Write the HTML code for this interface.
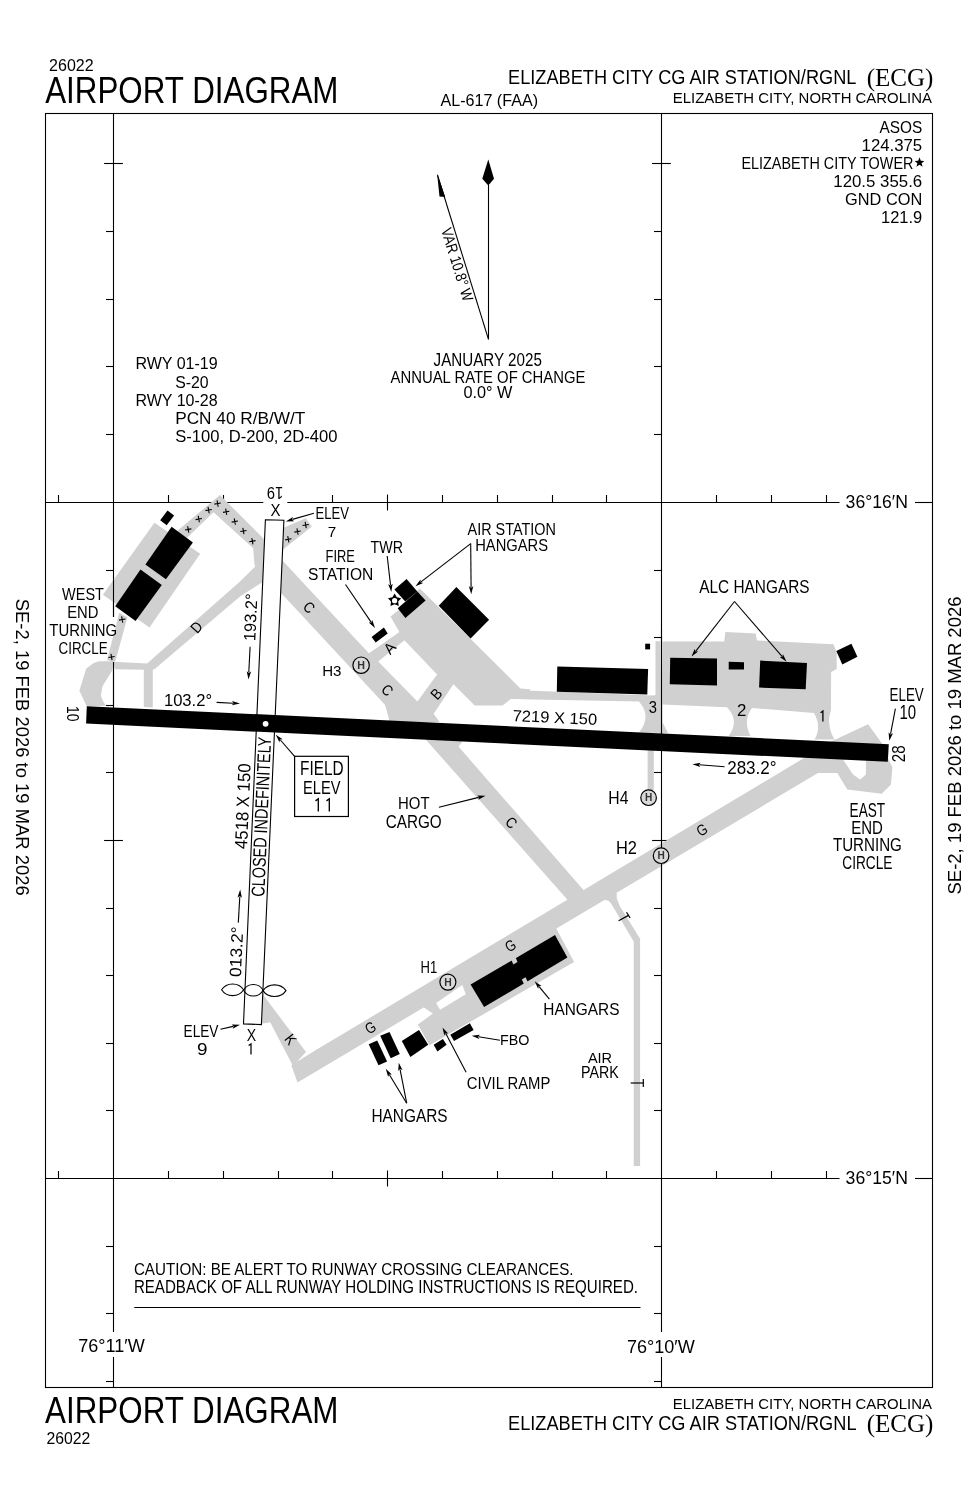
<!DOCTYPE html>
<html><head><meta charset="utf-8"><style>
html,body{margin:0;padding:0;background:#fff;}
svg{display:block;will-change:transform;}
text{font-family:"Liberation Sans",sans-serif;fill:#000;}
</style></head><body>
<svg width="978" height="1500" viewBox="0 0 978 1500">
<rect x="45.5" y="113.5" width="887" height="1274" fill="none" stroke="#000" stroke-width="1.1"/>
<line x1="113.5" y1="113.5" x2="113.5" y2="617" stroke="#000" stroke-width="1.1"/>
<line x1="113.5" y1="662" x2="113.5" y2="1332" stroke="#000" stroke-width="1.1"/>
<line x1="113.5" y1="1357" x2="113.5" y2="1387" stroke="#000" stroke-width="1.1"/>
<line x1="661.5" y1="113.5" x2="661.5" y2="1332" stroke="#000" stroke-width="1.1"/>
<line x1="661.5" y1="1357" x2="661.5" y2="1387" stroke="#000" stroke-width="1.1"/>
<line x1="45.5" y1="502.5" x2="263.3" y2="502.5" stroke="#000" stroke-width="1.1"/>
<line x1="287.3" y1="502.5" x2="839.5" y2="502.5" stroke="#000" stroke-width="1.1"/>
<line x1="915" y1="502.5" x2="932.5" y2="502.5" stroke="#000" stroke-width="1.1"/>
<line x1="45.5" y1="1178.5" x2="839.5" y2="1178.5" stroke="#000" stroke-width="1.1"/>
<line x1="915" y1="1178.5" x2="932.5" y2="1178.5" stroke="#000" stroke-width="1.1"/>
<line x1="104.1" y1="163.5" x2="122.9" y2="163.5" stroke="#000" stroke-width="1.1"/>
<line x1="106.0" y1="231.5" x2="113.5" y2="231.5" stroke="#000" stroke-width="1.1"/>
<line x1="106.0" y1="299.5" x2="113.5" y2="299.5" stroke="#000" stroke-width="1.1"/>
<line x1="106.0" y1="366.5" x2="113.5" y2="366.5" stroke="#000" stroke-width="1.1"/>
<line x1="106.0" y1="434.5" x2="113.5" y2="434.5" stroke="#000" stroke-width="1.1"/>
<line x1="106.0" y1="570.5" x2="113.5" y2="570.5" stroke="#000" stroke-width="1.1"/>
<line x1="106.0" y1="705.5" x2="113.5" y2="705.5" stroke="#000" stroke-width="1.1"/>
<line x1="106.0" y1="772.5" x2="113.5" y2="772.5" stroke="#000" stroke-width="1.1"/>
<line x1="104.1" y1="840.5" x2="122.9" y2="840.5" stroke="#000" stroke-width="1.1"/>
<line x1="106.0" y1="908.5" x2="113.5" y2="908.5" stroke="#000" stroke-width="1.1"/>
<line x1="106.0" y1="975.5" x2="113.5" y2="975.5" stroke="#000" stroke-width="1.1"/>
<line x1="106.0" y1="1043.5" x2="113.5" y2="1043.5" stroke="#000" stroke-width="1.1"/>
<line x1="106.0" y1="1110.5" x2="113.5" y2="1110.5" stroke="#000" stroke-width="1.1"/>
<line x1="106.0" y1="1246.5" x2="113.5" y2="1246.5" stroke="#000" stroke-width="1.1"/>
<line x1="106.0" y1="1313.5" x2="113.5" y2="1313.5" stroke="#000" stroke-width="1.1"/>
<line x1="106.0" y1="1381.5" x2="113.5" y2="1381.5" stroke="#000" stroke-width="1.1"/>
<line x1="652.1" y1="163.5" x2="670.9" y2="163.5" stroke="#000" stroke-width="1.1"/>
<line x1="654.0" y1="231.5" x2="661.5" y2="231.5" stroke="#000" stroke-width="1.1"/>
<line x1="654.0" y1="299.5" x2="661.5" y2="299.5" stroke="#000" stroke-width="1.1"/>
<line x1="654.0" y1="366.5" x2="661.5" y2="366.5" stroke="#000" stroke-width="1.1"/>
<line x1="654.0" y1="434.5" x2="661.5" y2="434.5" stroke="#000" stroke-width="1.1"/>
<line x1="654.0" y1="570.5" x2="661.5" y2="570.5" stroke="#000" stroke-width="1.1"/>
<line x1="654.0" y1="637.5" x2="661.5" y2="637.5" stroke="#000" stroke-width="1.1"/>
<line x1="654.0" y1="705.5" x2="661.5" y2="705.5" stroke="#000" stroke-width="1.1"/>
<line x1="654.0" y1="772.5" x2="661.5" y2="772.5" stroke="#000" stroke-width="1.1"/>
<line x1="652.1" y1="840.5" x2="670.9" y2="840.5" stroke="#000" stroke-width="1.1"/>
<line x1="654.0" y1="908.5" x2="661.5" y2="908.5" stroke="#000" stroke-width="1.1"/>
<line x1="654.0" y1="975.5" x2="661.5" y2="975.5" stroke="#000" stroke-width="1.1"/>
<line x1="654.0" y1="1043.5" x2="661.5" y2="1043.5" stroke="#000" stroke-width="1.1"/>
<line x1="654.0" y1="1110.5" x2="661.5" y2="1110.5" stroke="#000" stroke-width="1.1"/>
<line x1="654.0" y1="1246.5" x2="661.5" y2="1246.5" stroke="#000" stroke-width="1.1"/>
<line x1="654.0" y1="1313.5" x2="661.5" y2="1313.5" stroke="#000" stroke-width="1.1"/>
<line x1="654.0" y1="1381.5" x2="661.5" y2="1381.5" stroke="#000" stroke-width="1.1"/>
<line x1="58.5" y1="495.0" x2="58.5" y2="502.5" stroke="#000" stroke-width="1.1"/>
<line x1="168.5" y1="495.0" x2="168.5" y2="502.5" stroke="#000" stroke-width="1.1"/>
<line x1="223.5" y1="495.0" x2="223.5" y2="502.5" stroke="#000" stroke-width="1.1"/>
<line x1="332.5" y1="495.0" x2="332.5" y2="502.5" stroke="#000" stroke-width="1.1"/>
<line x1="387.5" y1="494.5" x2="387.5" y2="510.5" stroke="#000" stroke-width="1.1"/>
<line x1="442.5" y1="495.0" x2="442.5" y2="502.5" stroke="#000" stroke-width="1.1"/>
<line x1="497.5" y1="495.0" x2="497.5" y2="502.5" stroke="#000" stroke-width="1.1"/>
<line x1="552.5" y1="495.0" x2="552.5" y2="502.5" stroke="#000" stroke-width="1.1"/>
<line x1="606.5" y1="495.0" x2="606.5" y2="502.5" stroke="#000" stroke-width="1.1"/>
<line x1="716.5" y1="495.0" x2="716.5" y2="502.5" stroke="#000" stroke-width="1.1"/>
<line x1="771.5" y1="495.0" x2="771.5" y2="502.5" stroke="#000" stroke-width="1.1"/>
<line x1="826.5" y1="495.0" x2="826.5" y2="502.5" stroke="#000" stroke-width="1.1"/>
<line x1="58.5" y1="1171.0" x2="58.5" y2="1178.5" stroke="#000" stroke-width="1.1"/>
<line x1="168.5" y1="1171.0" x2="168.5" y2="1178.5" stroke="#000" stroke-width="1.1"/>
<line x1="223.5" y1="1171.0" x2="223.5" y2="1178.5" stroke="#000" stroke-width="1.1"/>
<line x1="278.5" y1="1171.0" x2="278.5" y2="1178.5" stroke="#000" stroke-width="1.1"/>
<line x1="332.5" y1="1171.0" x2="332.5" y2="1178.5" stroke="#000" stroke-width="1.1"/>
<line x1="387.5" y1="1170.5" x2="387.5" y2="1186.5" stroke="#000" stroke-width="1.1"/>
<line x1="442.5" y1="1171.0" x2="442.5" y2="1178.5" stroke="#000" stroke-width="1.1"/>
<line x1="497.5" y1="1171.0" x2="497.5" y2="1178.5" stroke="#000" stroke-width="1.1"/>
<line x1="552.5" y1="1171.0" x2="552.5" y2="1178.5" stroke="#000" stroke-width="1.1"/>
<line x1="606.5" y1="1171.0" x2="606.5" y2="1178.5" stroke="#000" stroke-width="1.1"/>
<line x1="716.5" y1="1171.0" x2="716.5" y2="1178.5" stroke="#000" stroke-width="1.1"/>
<line x1="771.5" y1="1171.0" x2="771.5" y2="1178.5" stroke="#000" stroke-width="1.1"/>
<line x1="826.5" y1="1171.0" x2="826.5" y2="1178.5" stroke="#000" stroke-width="1.1"/>
<text x="49.10" y="70.90" font-size="16.13" textLength="44.50" lengthAdjust="spacingAndGlyphs">26022</text>
<text x="45.20" y="102.80" font-size="36.77" textLength="293.29" lengthAdjust="spacingAndGlyphs">AIRPORT DIAGRAM</text>
<text x="440.50" y="105.70" font-size="16.42" textLength="97.50" lengthAdjust="spacingAndGlyphs">AL-617 (FAA)</text>
<text x="508.10" y="83.60" font-size="19.62" textLength="348.30" lengthAdjust="spacingAndGlyphs">ELIZABETH CITY CG AIR STATION/RGNL</text>
<text x="866.70" y="85.60" font-size="24.43" textLength="66.70" lengthAdjust="spacingAndGlyphs" style="font-family:'Liberation Serif'">(ECG)</text>
<text x="672.80" y="102.70" font-size="15.55" textLength="259.09" lengthAdjust="spacingAndGlyphs">ELIZABETH CITY, NORTH CAROLINA</text>
<text x="672.80" y="1408.60" font-size="15.41" textLength="259.09" lengthAdjust="spacingAndGlyphs">ELIZABETH CITY, NORTH CAROLINA</text>
<text x="508.10" y="1430.20" font-size="19.91" textLength="348.40" lengthAdjust="spacingAndGlyphs">ELIZABETH CITY CG AIR STATION/RGNL</text>
<text x="866.70" y="1431.60" font-size="24.43" textLength="66.70" lengthAdjust="spacingAndGlyphs" style="font-family:'Liberation Serif'">(ECG)</text>
<text x="45.00" y="1422.80" font-size="36.05" textLength="293.49" lengthAdjust="spacingAndGlyphs">AIRPORT DIAGRAM</text>
<text x="46.40" y="1443.70" font-size="16.28" textLength="43.90" lengthAdjust="spacingAndGlyphs">26022</text>
<g transform="translate(22.50,747.20) rotate(90.00)"><text x="-148.50" y="6.05" font-size="17.59" textLength="297.00" lengthAdjust="spacingAndGlyphs">SE-2,  19 FEB 2026  to  19 MAR 2026</text></g>
<g transform="translate(954.50,745.50) rotate(-90.00)"><text x="-149.00" y="6.05" font-size="17.59" textLength="298.00" lengthAdjust="spacingAndGlyphs">SE-2,  19 FEB 2026  to  19 MAR 2026</text></g>
<text x="879.50" y="132.60" font-size="16.28" textLength="42.70" lengthAdjust="spacingAndGlyphs">ASOS</text>
<text x="861.60" y="150.60" font-size="16.42" textLength="60.60" lengthAdjust="spacingAndGlyphs">124.375</text>
<text x="741.40" y="168.70" font-size="16.28" textLength="172.00" lengthAdjust="spacingAndGlyphs">ELIZABETH CITY TOWER</text>
<text x="833.30" y="186.90" font-size="16.13" textLength="88.90" lengthAdjust="spacingAndGlyphs">120.5 355.6</text>
<text x="845.10" y="205.20" font-size="16.28" textLength="77.10" lengthAdjust="spacingAndGlyphs">GND CON</text>
<text x="881.00" y="223.40" font-size="16.57" textLength="41.21" lengthAdjust="spacingAndGlyphs">121.9</text>
<polygon points="919.5,157.3 920.8,160.7 924.4,160.9 921.6,163.2 922.6,166.7 919.5,164.7 916.4,166.7 917.4,163.2 914.6,160.9 918.2,160.7" fill="#000"/>
<text x="135.40" y="369.10" font-size="16.13" textLength="82.21" lengthAdjust="spacingAndGlyphs">RWY 01-19</text>
<text x="175.20" y="387.70" font-size="17.30" textLength="33.41" lengthAdjust="spacingAndGlyphs">S-20</text>
<text x="135.40" y="405.70" font-size="16.28" textLength="82.21" lengthAdjust="spacingAndGlyphs">RWY 10-28</text>
<text x="175.20" y="424.20" font-size="17.01" textLength="130.19" lengthAdjust="spacingAndGlyphs">PCN 40 R/B/W/T</text>
<text x="175.20" y="442.20" font-size="17.01" textLength="162.30" lengthAdjust="spacingAndGlyphs">S-100, D-200, 2D-400</text>
<text x="433.60" y="366.40" font-size="17.59" textLength="108.30" lengthAdjust="spacingAndGlyphs">JANUARY 2025</text>
<text x="390.60" y="382.70" font-size="17.01" textLength="194.80" lengthAdjust="spacingAndGlyphs">ANNUAL RATE OF CHANGE</text>
<text x="463.40" y="398.00" font-size="17.01" textLength="49.00" lengthAdjust="spacingAndGlyphs">0.0° W</text>
<line x1="488.5" y1="185" x2="488.5" y2="339.3" stroke="#000" stroke-width="1.1"/>
<polygon points="488.3,159.6 494.0,178.7 488.3,185.5 482.3,178.7" fill="#000"/>
<line x1="488.5" y1="339.3" x2="437.5" y2="175" stroke="#000" stroke-width="1.1"/>
<polygon points="437.1,173.5 445.2,197.0 439.5,196.5" fill="#000"/>
<g transform="translate(457.30,264.50) rotate(72.80)"><text x="-38.00" y="5.30" font-size="15.41" textLength="76.00" lengthAdjust="spacingAndGlyphs">VAR 10.8° W</text></g>
<text x="133.90" y="1275.20" font-size="16.72" textLength="439.70" lengthAdjust="spacingAndGlyphs">CAUTION: BE ALERT TO RUNWAY CROSSING CLEARANCES.</text>
<text x="133.90" y="1292.90" font-size="17.44" textLength="504.10" lengthAdjust="spacingAndGlyphs">READBACK OF ALL RUNWAY HOLDING INSTRUCTIONS IS REQUIRED.</text>
<line x1="134.3" y1="1307.5" x2="640.5" y2="1307.5" stroke="#000" stroke-width="1.1"/>
<text x="78.20" y="1352.30" font-size="17.73" textLength="66.49" lengthAdjust="spacingAndGlyphs">76°11′W</text>
<text x="626.90" y="1352.50" font-size="18.31" textLength="67.80" lengthAdjust="spacingAndGlyphs">76°10′W</text>
<text x="845.60" y="508.00" font-size="18.17" textLength="62.30" lengthAdjust="spacingAndGlyphs">36°16′N</text>
<text x="845.60" y="1183.90" font-size="18.17" textLength="62.30" lengthAdjust="spacingAndGlyphs">36°15′N</text>
<path d="M154.4,522.7 L200.2,553.8 L149.5,627.4 L102.9,594.7Z M176.0,532.0 L220.0,495.0 L266.0,541.0 L266.0,556.0 L257.7,552.3 L213.5,512.2 L184.0,540.7Z M253.0,546.0 L266.0,546.0 L266.0,578.0 L258.0,578.0 L254.4,564.0Z M240.0,581.6 L266.0,556.0 L266.0,580.0 L240.0,596.4 L154.4,669.2 L152.8,669.5 L152.8,707.5 L143.8,707.0 L143.8,669.7 L115.2,669.2 L112.7,661.8 L147.1,663.4Z M119.3,612.7 L127.4,617.6 L115.2,661.8 L107.0,660.2Z M86.8,706.5 L79.4,690.7 L86.1,668.7 L93.7,663.1 L98.9,661.2 L113.5,661.0 L112.1,670.7 L106.0,680.4 L102.4,686.6 L100.9,695.8 L102.9,700.9 L106.0,705.7Z M283.0,528.1 L305.7,518.3 L311.9,526.5 L283.0,549.5Z M270.0,548.0 L283.0,561.0 L299.4,578.8 L420.0,708.0 L420.0,722.0 L389.0,722.0 L388.6,709.0 L384.7,704.5 L282.5,594.4 L266.0,578.0Z M390.5,616.4 L397.8,610.7 L419.9,588.6 L520.5,688.4 L530.0,689.2 L530.0,699.3 L510.7,699.1 L502.5,705.6 L474.7,705.6 L453.4,684.3 L433.7,713.8 L439.5,722.0 L390.0,722.0 L372.0,660.0 L368.0,654.0 L399.4,632.0Z M520.0,688.7 L520.9,689.1 L527.0,690.6 L652.5,695.6 L655.5,694.9 L655.5,641.3 L660.4,641.3 L661.5,733.0 L639.0,732.5 L641.8,728.4 L643.9,724.4 L645.1,720.4 L645.5,716.5 L645.1,712.7 L643.9,708.9 L641.8,705.2 L639.0,701.5 L520.0,699.3Z M662.4,641.5 L724.2,641.5 L725.4,632.0 L755.7,633.6 L756.9,640.4 L833.4,644.2 L836.7,652.7 L836.7,669.0 L831.1,672.0 L831.0,710.0 L831.0,710.0 L830.0,713.7 L829.3,717.5 L829.1,721.2 L829.4,724.9 L830.0,728.6 L831.1,732.2 L832.6,735.9 L834.5,739.5 L814.5,739.5 L816.1,736.4 L817.3,733.2 L817.9,729.9 L818.1,726.6 L817.8,723.3 L817.0,719.9 L815.8,716.5 L814.0,713.0 L752.0,708.0 L749.9,711.3 L748.3,714.6 L747.3,718.0 L746.9,721.5 L747.0,725.0 L747.6,728.6 L748.8,732.3 L750.5,736.0 L728.6,736.0 L731.1,732.3 L732.8,728.6 L733.7,724.9 L733.9,721.3 L733.3,717.7 L732.0,714.2 L729.9,710.7 L727.0,707.2 L662.4,704.5 L662.4,722.0 L668.0,733.0 L661.5,733.0Z M420.0,735.0 L465.0,738.0 L458.5,746.6 L583.7,890.2 L567.7,900.0 L426.6,740.5Z M647.6,748.0 L653.8,748.0 L653.8,790.0 L647.6,790.0Z M315.9,1050.1 L835.1,739.4 L823.0,770.1 L297.5,1082.5 L291.3,1065.2Z M262.0,990.0 L264.4,996.4 L306.0,1052.0 L293.0,1066.0 L270.2,1022.3 L261.5,1023.8Z M818.0,772.9 L830.0,742.0 L868.1,724.3 L881.7,742.9 L888.8,760.1 L892.4,767.3 L891.0,784.5 L881.7,793.8 L847.3,789.5 L837.3,773.0Z M420.0,1005.0 L555.0,926.0 L574.1,962.1 L429.4,1045.3 L417.9,1024.4 L432.9,1013.6Z M616.5,885.0 L616.8,898.6 L620.0,906.5 L640.1,938.7 L640.1,1166.0 L633.7,1166.0 L633.7,941.6 L610.8,902.9 L608.5,900.8 L604.3,899.7 L600.0,895.0Z" fill="#d0d0d0"/>
<polygon points="843.0,759.4 853.0,774.4 860.2,779.4 865.9,774.4 865.9,759.0" fill="#fff"/>
<polygon points="436.1,1002.9 462.3,985.0 465.8,994.3 440.1,1009.7" fill="#fff"/>
<polygon points="404.4,640.2 437.1,674.5 417.4,701.5 378.2,661.4" fill="#fff"/>
<line x1="113.5" y1="580" x2="113.5" y2="617" stroke="#000" stroke-width="1.1"/>
<line x1="113.5" y1="662" x2="113.5" y2="706" stroke="#000" stroke-width="1.1"/>
<line x1="661.5" y1="630" x2="661.5" y2="745" stroke="#000" stroke-width="1.1"/>
<line x1="661.5" y1="840" x2="661.5" y2="880" stroke="#000" stroke-width="1.1"/>
<polygon points="171.6,526.8 192.9,542.4 165.9,579.2 145.4,564.4" fill="#000"/>
<polygon points="140.5,569.4 161.8,584.9 135.6,620.9 115.2,606.2" fill="#000"/>
<polygon points="167.5,510.5 174.1,515.4 166.7,525.2 160.2,520.3" fill="#000"/>
<polygon points="371.6,636.9 383.9,627.4 387.7,633.6 375.7,642.6" fill="#000"/>
<polygon points="394.4,589.6 406.6,578.9 417.3,591.5 405.3,601.5" fill="#000"/>
<polygon points="397.7,608.3 417.3,591.5 425.6,600.4 405.4,617.9" fill="#000"/>
<polygon points="438.7,605.8 456.4,587.0 489.1,619.7 470.6,638.5" fill="#000"/>
<polygon points="557.3,666.6 648.1,669.1 647.3,694.4 556.8,691.7" fill="#000"/>
<polygon points="645.2,643.7 650.1,643.7 650.1,649.4 645.2,649.4" fill="#000"/>
<polygon points="670.2,657.7 717.0,658.4 717.0,685.4 669.8,684.2" fill="#000"/>
<polygon points="728.7,661.7 744.0,662.2 744.0,669.6 728.7,669.6" fill="#000"/>
<polygon points="760.2,660.6 807.0,662.9 805.7,689.2 759.1,687.6" fill="#000"/>
<polygon points="836.3,650.9 851.4,643.7 857.4,656.8 842.3,664.4" fill="#000"/>
<polygon points="470.6,984.6 555.0,935.1 567.4,957.6 484.1,1007.1" fill="#000"/>
<polygon points="510.8,958.5 515.0,956.0 517.5,962.0 513.3,964.5" fill="#d0d0d0"/>
<polygon points="521.8,979.5 525.5,977.3 528.3,983.0 524.6,985.2" fill="#d0d0d0"/>
<polygon points="450.3,1034.8 469.9,1023.2 473.6,1030.0 454.0,1041.0" fill="#000"/>
<polygon points="433.7,1044.7 442.9,1039.1 446.6,1044.7 437.4,1051.4" fill="#000"/>
<polygon points="401.8,1041.0 419.0,1030.0 428.2,1044.7 410.4,1056.9" fill="#000"/>
<polygon points="368.7,1044.3 377.2,1040.6 387.1,1061.5 378.5,1065.2" fill="#000"/>
<polygon points="380.2,1035.7 389.5,1032.0 399.8,1054.1 390.7,1058.3" fill="#000"/>
<polygon points="265.4,519.8 283.9,520.3 261.4,1024.6 243.5,1023.9" fill="#fff" stroke="#000" stroke-width="1.1"/>
<polygon points="86.8,706.2 888.8,744.2 887.8,761.8 86.1,723.6" fill="#000"/>
<circle cx="265.6" cy="723.8" r="2.9" fill="#fff"/>
<g transform="translate(275.00,493.00) rotate(180.00)"><text x="-8.15" y="5.85" font-size="17.01" textLength="16.30" lengthAdjust="spacingAndGlyphs">19</text></g>
<text x="270.60" y="515.80" font-size="17.15" textLength="10.00" lengthAdjust="spacingAndGlyphs">X</text>
<text x="315.60" y="518.90" font-size="15.70" textLength="33.50" lengthAdjust="spacingAndGlyphs">ELEV</text>
<text x="327.80" y="536.70" font-size="14.83" textLength="8.50" lengthAdjust="spacingAndGlyphs">7</text>
<line x1="313.9" y1="513.2" x2="292.5" y2="519.4" stroke="#000" stroke-width="1.1"/>
<polygon points="285.8,521.4 292.9,517.0 292.0,519.6 294.1,521.3" fill="#000"/>
<text x="62.10" y="599.80" font-size="17.01" textLength="41.80" lengthAdjust="spacingAndGlyphs">WEST</text>
<text x="67.20" y="617.70" font-size="15.99" textLength="31.21" lengthAdjust="spacingAndGlyphs">END</text>
<text x="49.30" y="636.10" font-size="15.99" textLength="67.90" lengthAdjust="spacingAndGlyphs">TURNING</text>
<text x="58.50" y="654.10" font-size="16.72" textLength="49.09" lengthAdjust="spacingAndGlyphs">CIRCLE</text>
<g transform="translate(196.50,627.20) rotate(-48.00)"><text x="-4.75" y="5.25" font-size="15.26" textLength="9.50" lengthAdjust="spacingAndGlyphs">D</text></g>
<g transform="translate(309.00,607.50) rotate(43.00)"><text x="-4.75" y="5.25" font-size="15.26" textLength="9.50" lengthAdjust="spacingAndGlyphs">C</text></g>
<g transform="translate(250.60,617.30) rotate(-87.50)"><text x="-23.75" y="5.75" font-size="16.72" textLength="47.51" lengthAdjust="spacingAndGlyphs">193.2°</text></g>
<line x1="250.1" y1="646.7" x2="248.8" y2="672.4" stroke="#000" stroke-width="1.1"/>
<polygon points="248.5,679.4 246.7,671.3 248.8,672.9 251.1,671.5" fill="#000"/>
<text x="163.90" y="706.00" font-size="16.72" textLength="48.21" lengthAdjust="spacingAndGlyphs">103.2°</text>
<line x1="216.6" y1="702.4" x2="233.0" y2="703.2" stroke="#000" stroke-width="1.1"/>
<polygon points="240.0,703.5 231.9,705.3 233.5,703.2 232.1,700.9" fill="#000"/>
<text x="370.60" y="552.70" font-size="16.57" textLength="32.40" lengthAdjust="spacingAndGlyphs">TWR</text>
<line x1="387.2" y1="556.0" x2="390.5" y2="584.9" stroke="#000" stroke-width="1.1"/>
<polygon points="391.3,591.9 388.2,584.2 390.6,585.4 392.6,583.7" fill="#000"/>
<text x="325.60" y="562.20" font-size="15.99" textLength="29.30" lengthAdjust="spacingAndGlyphs">FIRE</text>
<text x="308.10" y="580.30" font-size="16.42" textLength="65.20" lengthAdjust="spacingAndGlyphs">STATION</text>
<line x1="345.5" y1="584.5" x2="371.1" y2="622.1" stroke="#000" stroke-width="1.1"/>
<polygon points="375.0,627.9 368.7,622.5 371.3,622.5 372.3,620.0" fill="#000"/>
<text x="467.60" y="535.20" font-size="16.42" textLength="88.20" lengthAdjust="spacingAndGlyphs">AIR STATION</text>
<text x="475.20" y="551.20" font-size="16.57" textLength="72.91" lengthAdjust="spacingAndGlyphs">HANGARS</text>
<line x1="470.7" y1="543.6" x2="421.0" y2="581.9" stroke="#000" stroke-width="1.1"/>
<polygon points="415.5,586.2 420.5,579.6 420.6,582.2 423.2,583.1" fill="#000"/>
<line x1="470.7" y1="543.6" x2="471.1" y2="587.3" stroke="#000" stroke-width="1.1"/>
<polygon points="471.2,594.3 468.9,586.3 471.1,587.8 473.3,586.3" fill="#000"/>
<polygon points="394.6,593.5 396.8,597.3 401.2,598.3 398.2,601.6 398.7,606.0 394.6,604.2 390.5,606.0 391.0,601.6 388.0,598.3 392.4,597.3" fill="#000"/>
<circle cx="394.6" cy="600.7" r="2.62" fill="#fff"/>
<circle cx="361.1" cy="665.2" r="8.2" fill="#d9d9d9" stroke="#000" stroke-width="1.2"/>
<text x="361.1" y="669.0" font-size="10.7" font-weight="bold" text-anchor="middle" style="fill:#333">H</text>
<text x="322.20" y="676.20" font-size="15.55" textLength="19.30" lengthAdjust="spacingAndGlyphs">H3</text>
<g transform="translate(389.60,648.00) rotate(-48.00)"><text x="-5.00" y="5.25" font-size="15.26" textLength="10.00" lengthAdjust="spacingAndGlyphs">A</text></g>
<g transform="translate(436.40,694.00) rotate(-48.00)"><text x="-4.50" y="5.25" font-size="15.26" textLength="9.00" lengthAdjust="spacingAndGlyphs">B</text></g>
<g transform="translate(387.30,690.20) rotate(43.00)"><text x="-4.75" y="5.25" font-size="15.26" textLength="9.50" lengthAdjust="spacingAndGlyphs">C</text></g>
<g transform="translate(554.90,717.50) rotate(2.70)"><text x="-42.25" y="5.50" font-size="15.99" textLength="84.50" lengthAdjust="spacingAndGlyphs">7219 X 150</text></g>
<text x="648.80" y="712.60" font-size="15.70" textLength="8.20" lengthAdjust="spacingAndGlyphs">3</text>
<text x="737.10" y="716.20" font-size="15.70" textLength="9.40" lengthAdjust="spacingAndGlyphs">2</text>
<path d="M820.6,712.7 L822.9,711.1 L822.9,721.6" fill="none" stroke="#000" stroke-width="1.3" stroke-linejoin="miter"/>
<text x="699.30" y="592.50" font-size="18.75" textLength="110.29" lengthAdjust="spacingAndGlyphs">ALC HANGARS</text>
<line x1="734.5" y1="601.5" x2="695.8" y2="651.1" stroke="#000" stroke-width="1.1"/>
<polygon points="691.5,656.6 694.7,648.9 695.5,651.5 698.2,651.6" fill="#000"/>
<line x1="734.5" y1="601.5" x2="782.0" y2="656.4" stroke="#000" stroke-width="1.1"/>
<polygon points="786.6,661.7 779.7,657.1 782.3,656.8 783.0,654.2" fill="#000"/>
<text x="889.50" y="701.10" font-size="18.75" textLength="34.30" lengthAdjust="spacingAndGlyphs">ELEV</text>
<text x="899.40" y="719.20" font-size="20.06" textLength="16.70" lengthAdjust="spacingAndGlyphs">10</text>
<line x1="895.4" y1="708.6" x2="890.6" y2="733.9" stroke="#000" stroke-width="1.1"/>
<polygon points="889.3,740.8 888.6,732.5 890.5,734.4 893.0,733.3" fill="#000"/>
<g transform="translate(899.30,753.80) rotate(-90.00)"><text x="-8.45" y="6.15" font-size="17.88" textLength="16.90" lengthAdjust="spacingAndGlyphs">28</text></g>
<g transform="translate(72.90,713.80) rotate(90.00)"><text x="-7.70" y="5.90" font-size="17.15" textLength="15.40" lengthAdjust="spacingAndGlyphs">10</text></g>
<text x="727.20" y="773.50" font-size="17.88" textLength="49.41" lengthAdjust="spacingAndGlyphs">283.2°</text>
<line x1="724.6" y1="766.8" x2="699.4" y2="764.8" stroke="#000" stroke-width="1.1"/>
<polygon points="692.4,764.2 700.6,762.7 698.9,764.7 700.2,767.0" fill="#000"/>
<circle cx="648.6" cy="797.7" r="7.8" fill="#d9d9d9" stroke="#000" stroke-width="1.2"/>
<text x="648.6" y="801.3" font-size="10.1" font-weight="bold" text-anchor="middle" style="fill:#333">H</text>
<text x="608.30" y="804.20" font-size="18.75" textLength="20.11" lengthAdjust="spacingAndGlyphs">H4</text>
<circle cx="661.1" cy="855.7" r="7.8" fill="#d9d9d9" stroke="#000" stroke-width="1.2"/>
<text x="661.1" y="859.3" font-size="10.1" font-weight="bold" text-anchor="middle" style="fill:#333">H</text>
<text x="616.00" y="853.50" font-size="18.60" textLength="21.01" lengthAdjust="spacingAndGlyphs">H2</text>
<g transform="translate(701.90,830.00) rotate(-30.00)"><text x="-5.00" y="5.25" font-size="15.26" textLength="10.00" lengthAdjust="spacingAndGlyphs">G</text></g>
<text x="849.60" y="817.00" font-size="20.49" textLength="35.60" lengthAdjust="spacingAndGlyphs">EAST</text>
<text x="851.20" y="834.20" font-size="18.75" textLength="31.61" lengthAdjust="spacingAndGlyphs">END</text>
<text x="832.90" y="851.40" font-size="18.75" textLength="69.00" lengthAdjust="spacingAndGlyphs">TURNING</text>
<text x="842.30" y="868.60" font-size="18.75" textLength="50.19" lengthAdjust="spacingAndGlyphs">CIRCLE</text>
<text x="398.00" y="809.20" font-size="15.99" textLength="31.50" lengthAdjust="spacingAndGlyphs">HOT</text>
<text x="385.70" y="827.60" font-size="17.88" textLength="56.00" lengthAdjust="spacingAndGlyphs">CARGO</text>
<line x1="438.9" y1="807.2" x2="478.7" y2="797.4" stroke="#000" stroke-width="1.1"/>
<polygon points="485.5,795.7 478.3,799.8 479.2,797.3 477.2,795.5" fill="#000"/>
<g transform="translate(511.30,822.70) rotate(43.00)"><text x="-4.75" y="5.25" font-size="15.26" textLength="9.50" lengthAdjust="spacingAndGlyphs">C</text></g>
<rect x="294.6" y="756.3" width="53.8" height="60.2" fill="#fff" stroke="#000" stroke-width="1.2"/>
<text x="300.00" y="775.00" font-size="19.77" textLength="43.60" lengthAdjust="spacingAndGlyphs">FIELD</text>
<text x="303.10" y="793.60" font-size="18.60" textLength="37.40" lengthAdjust="spacingAndGlyphs">ELEV</text>
<path d="M315.5,800.9 L318.3,798.8 L318.3,811.6" fill="none" stroke="#000" stroke-width="1.35" stroke-linejoin="miter"/>
<path d="M326.5,800.9 L329.3,798.8 L329.3,811.6" fill="none" stroke="#000" stroke-width="1.35" stroke-linejoin="miter"/>
<line x1="294.6" y1="756.3" x2="280.4" y2="740.0" stroke="#000" stroke-width="1.1"/>
<polygon points="275.8,734.7 282.7,739.3 280.1,739.6 279.4,742.2" fill="#000"/>
<g transform="translate(242.70,806.20) rotate(-87.50)"><text x="-42.75" y="6.15" font-size="17.88" textLength="85.50" lengthAdjust="spacingAndGlyphs">4518 X 150</text></g>
<g transform="translate(261.30,816.70) rotate(-87.50)"><text x="-80.00" y="6.40" font-size="18.60" textLength="160.00" lengthAdjust="spacingAndGlyphs">CLOSED INDEFINITELY</text></g>
<g transform="translate(236.30,951.70) rotate(-87.50)"><text x="-25.25" y="5.75" font-size="16.72" textLength="50.51" lengthAdjust="spacingAndGlyphs">013.2°</text></g>
<line x1="238.3" y1="922.6" x2="239.8" y2="896.6" stroke="#000" stroke-width="1.1"/>
<polygon points="240.2,889.6 241.9,897.7 239.8,896.1 237.5,897.5" fill="#000"/>
<path d="M221.6,989.8 C226.4,982.0 238.8,982.0 243.6,989.8 C238.8,997.5 226.4,997.5 221.6,989.8Z" fill="none" stroke="#000" stroke-width="1.1"/>
<path d="M243.6,990.2 C247.8,982.5 258.8,982.5 263.1,990.2 C258.8,998.0 247.8,998.0 243.6,990.2Z" fill="none" stroke="#000" stroke-width="1.1"/>
<path d="M263.0,990.6 C268.1,982.9 280.9,982.9 286.0,990.6 C280.9,998.4 268.1,998.4 263.0,990.6Z" fill="none" stroke="#000" stroke-width="1.1"/>
<text x="183.50" y="1037.20" font-size="17.01" textLength="35.00" lengthAdjust="spacingAndGlyphs">ELEV</text>
<text x="197.10" y="1054.70" font-size="17.01" textLength="10.50" lengthAdjust="spacingAndGlyphs">9</text>
<line x1="220.5" y1="1029.3" x2="233.2" y2="1026.4" stroke="#000" stroke-width="1.1"/>
<polygon points="240.0,1024.8 232.7,1028.7 233.7,1026.3 231.7,1024.5" fill="#000"/>
<text x="246.80" y="1040.60" font-size="15.99" textLength="9.40" lengthAdjust="spacingAndGlyphs">X</text>
<path d="M248.6,1045.6 L251.0,1043.9 L251.0,1054.6" fill="none" stroke="#000" stroke-width="1.25" stroke-linejoin="miter"/>
<g transform="translate(290.70,1039.40) rotate(53.00)"><text x="-4.50" y="5.25" font-size="15.26" textLength="9.00" lengthAdjust="spacingAndGlyphs">K</text></g>
<g transform="translate(370.50,1027.80) rotate(-30.00)"><text x="-5.00" y="5.25" font-size="15.26" textLength="10.00" lengthAdjust="spacingAndGlyphs">G</text></g>
<g transform="translate(510.50,945.80) rotate(-30.00)"><text x="-5.00" y="5.25" font-size="15.26" textLength="10.00" lengthAdjust="spacingAndGlyphs">G</text></g>
<circle cx="447.9" cy="982.1" r="8.0" fill="#d9d9d9" stroke="#000" stroke-width="1.2"/>
<text x="447.9" y="985.8" font-size="10.4" font-weight="bold" text-anchor="middle" style="fill:#333">H</text>
<text x="420.50" y="972.90" font-size="16.13" textLength="16.70" lengthAdjust="spacingAndGlyphs">H1</text>
<text x="543.30" y="1014.50" font-size="15.70" textLength="76.21" lengthAdjust="spacingAndGlyphs">HANGARS</text>
<line x1="549.4" y1="999.2" x2="539.1" y2="986.6" stroke="#000" stroke-width="1.1"/>
<polygon points="534.7,981.2 541.5,986.0 538.8,986.2 538.1,988.8" fill="#000"/>
<text x="500.10" y="1045.40" font-size="15.41" textLength="29.40" lengthAdjust="spacingAndGlyphs">FBO</text>
<line x1="499.9" y1="1040.2" x2="478.6" y2="1036.8" stroke="#000" stroke-width="1.1"/>
<polygon points="471.7,1035.7 479.9,1034.8 478.1,1036.7 479.3,1039.1" fill="#000"/>
<text x="466.80" y="1088.80" font-size="17.30" textLength="83.60" lengthAdjust="spacingAndGlyphs">CIVIL RAMP</text>
<line x1="466.1" y1="1072.3" x2="445.8" y2="1033.6" stroke="#000" stroke-width="1.1"/>
<polygon points="442.5,1027.4 448.2,1033.5 445.5,1033.2 444.3,1035.5" fill="#000"/>
<text x="371.40" y="1121.60" font-size="17.88" textLength="76.21" lengthAdjust="spacingAndGlyphs">HANGARS</text>
<line x1="406.7" y1="1103.2" x2="389.4" y2="1074.8" stroke="#000" stroke-width="1.1"/>
<polygon points="385.8,1068.8 391.8,1074.5 389.2,1074.4 388.1,1076.8" fill="#000"/>
<line x1="406.7" y1="1103.2" x2="400.1" y2="1069.6" stroke="#000" stroke-width="1.1"/>
<polygon points="398.8,1062.7 402.5,1070.1 400.0,1069.1 398.2,1071.0" fill="#000"/>
<text x="587.90" y="1062.70" font-size="15.41" textLength="24.20" lengthAdjust="spacingAndGlyphs">AIR</text>
<text x="581.10" y="1078.00" font-size="15.70" textLength="37.70" lengthAdjust="spacingAndGlyphs">PARK</text>
<line x1="618.6" y1="920.8" x2="629" y2="915.1" stroke="#000" stroke-width="1.2"/>
<line x1="626.5" y1="912.2" x2="630.1" y2="918" stroke="#000" stroke-width="1.2"/>
<line x1="630.7" y1="1083" x2="643.8" y2="1083" stroke="#000" stroke-width="1.2"/>
<line x1="643.3" y1="1079" x2="643.3" y2="1087" stroke="#000" stroke-width="1.2"/>
<g transform="translate(188.2,529.4) rotate(-10)"><path d="M-3.2,0L3.2,0M0,-3.2L0,3.2" stroke="#000" stroke-width="1.1"/></g>
<g transform="translate(198.8,519.1) rotate(-10)"><path d="M-3.2,0L3.2,0M0,-3.2L0,3.2" stroke="#000" stroke-width="1.1"/></g>
<g transform="translate(208.6,510.1) rotate(-10)"><path d="M-3.2,0L3.2,0M0,-3.2L0,3.2" stroke="#000" stroke-width="1.1"/></g>
<g transform="translate(217.6,503.6) rotate(-10)"><path d="M-3.2,0L3.2,0M0,-3.2L0,3.2" stroke="#000" stroke-width="1.1"/></g>
<g transform="translate(226.2,511.8) rotate(-10)"><path d="M-3.2,0L3.2,0M0,-3.2L0,3.2" stroke="#000" stroke-width="1.1"/></g>
<g transform="translate(234.8,521.6) rotate(-10)"><path d="M-3.2,0L3.2,0M0,-3.2L0,3.2" stroke="#000" stroke-width="1.1"/></g>
<g transform="translate(243.4,531.0) rotate(-10)"><path d="M-3.2,0L3.2,0M0,-3.2L0,3.2" stroke="#000" stroke-width="1.1"/></g>
<g transform="translate(252.4,541.2) rotate(-10)"><path d="M-3.2,0L3.2,0M0,-3.2L0,3.2" stroke="#000" stroke-width="1.1"/></g>
<g transform="translate(288.3,539.3) rotate(-10)"><path d="M-3.2,0L3.2,0M0,-3.2L0,3.2" stroke="#000" stroke-width="1.1"/></g>
<g transform="translate(297.5,531.6) rotate(-10)"><path d="M-3.2,0L3.2,0M0,-3.2L0,3.2" stroke="#000" stroke-width="1.1"/></g>
<g transform="translate(305.7,525.0) rotate(-10)"><path d="M-3.2,0L3.2,0M0,-3.2L0,3.2" stroke="#000" stroke-width="1.1"/></g>
<g transform="translate(122.2,619.6) rotate(-10)"><path d="M-3.2,0L3.2,0M0,-3.2L0,3.2" stroke="#000" stroke-width="1.1"/></g>
<g transform="translate(111.5,657.0) rotate(-10)"><path d="M-3.2,0L3.2,0M0,-3.2L0,3.2" stroke="#000" stroke-width="1.1"/></g>
</svg></body></html>
